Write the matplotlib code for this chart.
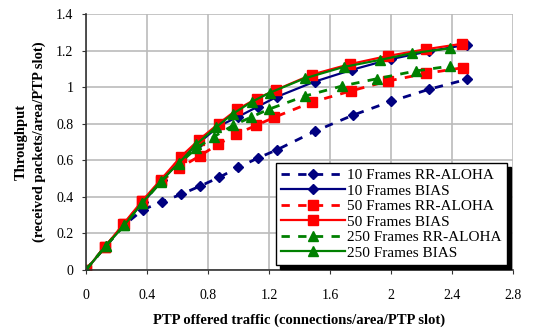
import matplotlib
matplotlib.use("Agg")
import matplotlib.pyplot as plt

# offered traffic / throughput
x_10_rr = [0, 0.125, 0.25, 0.375, 0.5, 0.625, 0.75, 0.875, 1.0, 1.125, 1.25, 1.5, 1.75, 2.0, 2.25, 2.5]
y_10_rr = [0, 0.125, 0.245, 0.33, 0.373, 0.414, 0.459, 0.507, 0.561, 0.611, 0.656, 0.758, 0.846, 0.922, 0.988, 1.043]

x_10_bias = [0, 0.125, 0.25, 0.375, 0.5, 0.625, 0.743, 0.872, 0.999, 1.126, 1.25, 1.5, 1.746, 2.0, 2.25, 2.5]
y_10_bias = [0, 0.125, 0.25, 0.37, 0.49, 0.605, 0.696, 0.787, 0.838, 0.893, 0.946, 1.03, 1.095, 1.153, 1.196, 1.232]

x_50_rr = [0, 0.125, 0.25, 0.37, 0.49, 0.61, 0.745, 0.868, 0.986, 1.115, 1.236, 1.484, 1.738, 1.98, 2.232, 2.472]
y_50_rr = [0, 0.127, 0.25, 0.375, 0.485, 0.556, 0.623, 0.688, 0.743, 0.79, 0.835, 0.918, 0.979, 1.033, 1.075, 1.106]

x_50_bias = [0, 0.125, 0.245, 0.37, 0.49, 0.623, 0.74, 0.87, 0.993, 1.12, 1.244, 1.48, 1.733, 1.978, 2.23, 2.468]
y_50_bias = [0, 0.127, 0.251, 0.379, 0.493, 0.62, 0.711, 0.8, 0.879, 0.937, 0.984, 1.068, 1.126, 1.17, 1.207, 1.237]

x_250_rr = [0, 0.13, 0.25, 0.37, 0.49, 0.61, 0.722, 0.84, 0.964, 1.084, 1.2, 1.436, 1.68, 1.91, 2.162, 2.39]
y_250_rr = [0, 0.131, 0.243, 0.365, 0.48, 0.58, 0.665, 0.729, 0.79, 0.836, 0.879, 0.951, 1.006, 1.046, 1.088, 1.115]

x_250_bias = [0, 0.13, 0.25, 0.37, 0.49, 0.612, 0.722, 0.85, 0.965, 1.088, 1.205, 1.435, 1.69, 1.925, 2.135, 2.39]
y_250_bias = [0, 0.131, 0.243, 0.368, 0.485, 0.587, 0.686, 0.779, 0.855, 0.92, 0.969, 1.048, 1.11, 1.148, 1.185, 1.212]

x_ticks = [0, 0.4, 0.8, 1.2, 1.6, 2, 2.4, 2.8]
x_tick_labels = ["0", "0.4", "0.8", "1.2", "1.6", "2", "2.4", "2.8"]
y_ticks = [0, 0.2, 0.4, 0.6, 0.8, 1, 1.2, 1.4]
y_tick_labels = ["0", "0.2", "0.4", "0.6", "0.8", "1", "1.2", "1.4"]

navy = "#000080"
red = "#ff0000"
green = "#008000"

plt.rcParams["font.family"] = ["Liberation Serif", "DejaVu Serif"]

fig = plt.figure(figsize=(5.36, 3.32), dpi=100)
ax = fig.add_axes([0.1604, 0.187, 0.7966, 0.771])

dash = (0, (3, 3))
ax.plot(x_10_rr, y_10_rr, color=navy, ls=dash, lw=2, marker="D", ms=5.5,
        label="10 Frames RR-ALOHA")
ax.plot(x_10_bias, y_10_bias, color=navy, ls="-", lw=1.6, marker="D", ms=5.5,
        label="10 Frames BIAS")
ax.plot(x_50_rr, y_50_rr, color=red, ls=dash, lw=2, marker="s", ms=6.5,
        label="50 Frames RR-ALOHA")
ax.plot(x_50_bias, y_50_bias, color=red, ls="-", lw=1.6, marker="s", ms=6.5,
        label="50 Frames BIAS")
ax.plot(x_250_rr, y_250_rr, color=green, ls=dash, lw=2, marker="^", ms=7.5,
        label="250 Frames RR-ALOHA")
ax.plot(x_250_bias, y_250_bias, color=green, ls="-", lw=1.6, marker="^", ms=7.5,
        label="250 Frames BIAS")

ax.set_xlim(0, 2.8)
ax.set_ylim(0, 1.4)
ax.set_xticks(x_ticks)
ax.set_xticklabels(x_tick_labels)
ax.set_yticks(y_ticks)
ax.set_yticklabels(y_tick_labels)
ax.tick_params(labelsize=10, direction="out", length=3, pad=6, color="#333333")
ax.tick_params(axis="x", pad=11)
ax.grid(True, color="#bbbbbb", lw=1.2)
ax.set_axisbelow(True)
for side in ["top", "right"]:
    ax.spines[side].set_visible(False)
for side in ["left", "bottom"]:
    ax.spines[side].set_color("#333333")
    ax.spines[side].set_linewidth(1.2)

ax.set_xlabel("PTP offered traffic (connections/area/PTP slot)",
              fontsize=10.5, fontweight="bold", labelpad=8)
ax.set_ylabel("Throughput\n(received packets/area/PTP slot)",
              fontsize=10.5, fontweight="bold", labelpad=7, linespacing=1.5)

leg = ax.legend(loc="lower right", bbox_to_anchor=(1.0, -0.005), fontsize=11,
                frameon=True, fancybox=False,
                shadow={"color": "black", "alpha": 1, "ox": 3, "oy": -3},
                handlelength=4.2, handletextpad=0.1, labelspacing=0.12,
                borderpad=0.35, borderaxespad=0.4)
leg.get_frame().set_edgecolor("black")
leg.get_frame().set_linewidth(1.0)

fig.savefig("out.png", dpi=100)
